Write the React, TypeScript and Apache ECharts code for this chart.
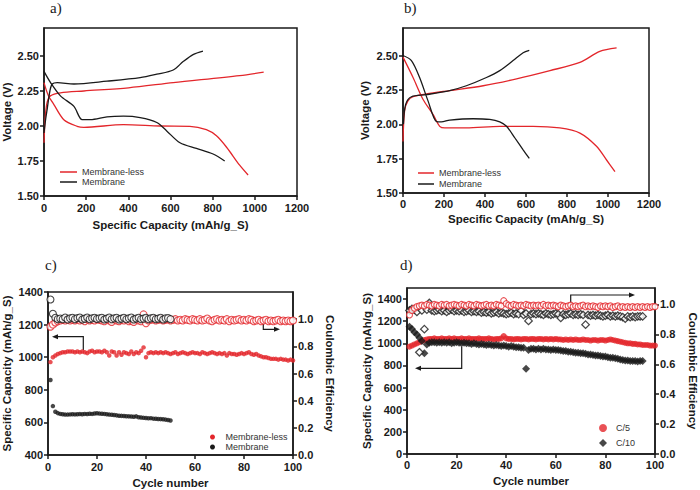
import React, { useEffect, useRef } from 'react';
import * as echarts from 'echarts';

const RED = '#e3262b';
const BLACK = '#1a1a1a';
const FONT = 'Liberation Sans, Arial, sans-serif';

// ---------- Panel a: voltage profiles ----------
const aRedChargeCap = [0, 4, 8, 15, 30, 78, 189, 401, 613, 928, 1042];
const aRedChargeV = [1.88, 2.02, 2.1, 2.17, 2.215, 2.237, 2.25, 2.273, 2.31, 2.36, 2.385];
const aRedDischargeCap = [0, 20, 47, 94, 157, 189, 377, 550, 692, 770, 818, 865, 928, 968];
const aRedDischargeV = [2.31, 2.22, 2.153, 2.045, 1.998, 1.99, 2.01, 2.0, 1.998, 1.974, 1.93, 1.85, 1.72, 1.65];
const aBlackChargeCap = [0, 8, 16, 28, 39, 63, 142, 299, 456, 535, 613, 660, 707, 754];
const aBlackChargeV = [1.95, 2.05, 2.13, 2.25, 2.3, 2.31, 2.3, 2.32, 2.345, 2.37, 2.4, 2.46, 2.51, 2.535];
const aBlackDischargeCap = [0, 31, 78, 142, 181, 220, 299, 377, 456, 535, 582, 645, 723, 802, 857];
const aBlackDischargeV = [2.39, 2.31, 2.215, 2.14, 2.045, 2.045, 2.065, 2.07, 2.06, 2.025, 1.965, 1.88, 1.84, 1.8, 1.75];

// ---------- Panel b: voltage profiles ----------
const bRedChargeCap = [0, 8, 24, 49, 114, 228, 391, 554, 717, 863, 960, 1042];
const bRedChargeV = [1.875, 2.1, 2.17, 2.2, 2.22, 2.245, 2.28, 2.33, 2.39, 2.45, 2.53, 2.555];
const bRedDischargeCap = [0, 49, 98, 147, 179, 204, 309, 472, 635, 765, 863, 944, 993, 1034];
const bRedDischargeV = [2.488, 2.34, 2.18, 2.07, 1.985, 1.973, 1.973, 1.985, 1.985, 1.973, 1.936, 1.84, 1.74, 1.655];
const bBlackChargeCap = [2, 13, 41, 114, 228, 309, 407, 472, 537, 586, 616];
const bBlackChargeV = [2.0, 2.145, 2.2, 2.215, 2.245, 2.28, 2.34, 2.39, 2.463, 2.52, 2.537];
const bBlackDischargeCap = [0, 41, 81, 122, 163, 187, 228, 342, 423, 472, 505, 546, 586, 616];
const bBlackDischargeV = [2.5, 2.463, 2.34, 2.17, 2.02, 2.017, 2.03, 2.04, 2.035, 2.017, 1.985, 1.9, 1.814, 1.752];

// ---------- Panel c: cycling (cycle n = index + 1) ----------
const cRedCap = [
  970, 1000, 1010, 1020, 1025, 1030, 1030, 1035, 1035, 1035,
  1030, 1035, 1030, 1035, 1030, 1025, 1035, 1040, 1030, 1035,
  1035, 1030, 1040, 1030, 1010, 1035, 1030, 1010, 1030, 1015,
  1030, 1025, 1020, 1035, 1020, 1030, 1025, 1040, 1060, 1000,
  1025, 1030, 1025, 1030, 1025, 1030, 1025, 1030, 1025, 1020,
  1025, 1030, 1020, 1025, 1030, 1025, 1020, 1025, 1030, 1025,
  1025, 1020, 1030, 1025, 1020, 1025, 1030, 1025, 1020, 1025,
  1020, 1025, 1010, 1025, 1020, 1020, 1015, 1020, 1025, 1020,
  1025, 1030, 1020, 1015, 1020, 1010, 1005, 1000, 1000, 995,
  990, 990, 990, 985, 990, 985, 985, 980, 985, 980,
];
const cRedCE = [
  0.945, 0.96, 0.975, 0.985, 0.99, 0.995, 0.99, 1.0, 0.99, 0.995,
  0.99, 1.0, 0.99, 0.995, 0.985, 1.0, 0.99, 0.995, 0.99, 1.0,
  0.995, 0.99, 0.985, 1.0, 0.99, 0.98, 1.0, 0.99, 0.985, 0.995,
  0.99, 1.0, 0.985, 0.99, 0.98, 1.0, 0.99, 0.985, 1.035, 0.97,
  0.99, 0.995, 1.0, 0.99, 0.995, 1.0, 0.99, 0.995, 1.0, 0.99,
  0.995, 1.0, 0.99, 0.995, 0.99, 1.0, 0.995, 0.99, 1.0, 0.995,
  0.99, 1.0, 0.99, 0.995, 1.005, 0.99, 0.985, 0.995, 1.0, 0.99,
  0.995, 0.99, 1.0, 0.985, 0.995, 0.99, 0.995, 1.0, 0.99, 0.995,
  0.99, 1.0, 0.995, 0.985, 0.99, 0.995, 0.985, 0.99, 0.995, 0.985,
  0.99, 0.985, 0.99, 0.995, 0.985, 0.99, 0.985, 0.99, 0.985, 0.99,
];
const cBlackCap = [
  860, 700, 665, 657, 652, 650, 648, 648, 649, 650,
  649, 650, 651, 650, 652, 651, 653, 652, 655, 656,
  654, 653, 652, 650, 648, 647, 645, 643, 641, 640,
  639, 638, 637, 636, 635, 637, 632, 630, 628, 627,
  625, 626, 623, 622, 621, 620, 619, 617, 615, 612,
];
const cBlackCE = [
  1.145, 1.04, 1.01, 1.0, 1.005, 1.0, 1.012, 0.998, 1.006, 1.01,
  1.0, 1.008, 1.012, 0.998, 1.004, 1.012, 1.0, 1.006, 1.01, 1.002,
  1.006, 1.01, 0.998, 1.004, 1.012, 1.0, 1.006, 1.01, 0.998, 1.004,
  1.01, 1.0, 1.006, 1.012, 0.998, 1.005, 1.01, 1.0, 1.004, 1.01,
  1.0, 1.006, 1.01, 1.0, 1.004, 1.01, 0.998, 1.006, 1.008, 1.0,
];

// ---------- Panel d: cycling (cycle n = index + 1) ----------
const dRedCap = [
  970, 980, 990, 1000, 1010, 1020, 1030, 1035, 1040, 1040,
  1045, 1040, 1040, 1045, 1040, 1040, 1045, 1040, 1045, 1040,
  1040, 1045, 1040, 1040, 1045, 1040, 1040, 1040, 1045, 1040,
  1040, 1040, 1045, 1040, 1035, 1040, 1040, 1045, 1065, 1045,
  1040, 1040, 1035, 1040, 1040, 1035, 1040, 1040, 1035, 1040,
  1040, 1035, 1040, 1040, 1035, 1040, 1035, 1040, 1035, 1040,
  1035, 1035, 1030, 1035, 1030, 1035, 1030, 1035, 1030, 1030,
  1035, 1030, 1030, 1025, 1030, 1030, 1025, 1030, 1030, 1025,
  1030, 1035, 1030, 1025, 1020, 1015, 1010, 1005, 1000, 1000,
  995, 995, 990, 990, 985, 985, 985, 980, 980, 980,
];
const dBlackCap = [
  1150, 1130, 1100, 1080, 1050, 1020, 910, 990, 1005, 1010,
  1010, 1005, 1010, 1005, 1010, 1005, 1010, 1000, 1005, 1010,
  1005, 1000, 1005, 1000, 1000, 995, 1000, 995, 990, 995,
  990, 985, 990, 985, 980, 985, 980, 975, 980, 975,
  970, 975, 970, 965, 965, 960, 960, 770, 940, 950,
  950, 945, 950, 945, 950, 945, 945, 940, 945, 940,
  940, 935, 930, 930, 925, 925, 920, 915, 915, 910,
  910, 905, 900, 900, 895, 890, 890, 885, 880, 880,
  875, 870, 870, 865, 860, 855, 850, 845, 845, 840,
  840, 840, 835, 840, 840,
];
const dRedCE = [
  0.93, 0.96, 0.975, 0.985, 0.99, 0.995, 0.99, 1.0, 0.995, 0.99,
  1.0, 0.995, 0.99, 1.0, 0.995, 1.0, 0.99, 0.995, 1.0, 0.995,
  0.99, 1.0, 0.995, 0.99, 1.0, 0.995, 0.99, 1.0, 0.995, 0.99,
  0.995, 1.0, 0.99, 0.995, 0.99, 1.0, 0.995, 0.99, 1.025, 1.005,
  0.995, 0.99, 1.0, 0.995, 0.99, 0.995, 0.99, 1.0, 0.995, 0.99,
  0.995, 0.99, 0.995, 0.99, 1.0, 0.99, 0.995, 0.99, 0.995, 0.99,
  0.985, 0.995, 0.99, 0.985, 0.99, 0.995, 0.985, 0.99, 0.985, 0.99,
  0.995, 0.985, 0.99, 0.985, 0.99, 0.985, 0.98, 0.99, 0.985, 0.99,
  0.985, 0.99, 0.98, 0.985, 0.99, 0.98, 0.985, 0.98, 0.985, 0.98,
  0.985, 0.98, 0.985, 0.98, 0.985, 0.98, 0.985, 0.98, 0.985, 0.985,
];
const dBlackCE = [
  0.96, 0.97, 0.965, 0.95, 0.68, 0.96, 0.835, 0.965, 1.01, 0.96,
  0.955, 0.96, 0.965, 0.955, 0.96, 0.95, 0.96, 0.965, 0.955, 0.96,
  0.955, 0.96, 0.95, 0.955, 0.96, 0.95, 0.955, 0.95, 0.955, 0.945,
  0.95, 0.945, 0.95, 0.94, 0.945, 0.95, 0.94, 0.945, 0.94, 0.935,
  0.94, 0.945, 0.935, 0.94, 0.935, 0.96, 0.93, 0.94, 0.89, 0.935,
  0.94, 0.935, 0.94, 0.935, 0.93, 0.94, 0.935, 0.93, 0.935, 0.94,
  0.935, 0.91, 0.935, 0.93, 0.935, 0.94, 0.93, 0.935, 0.93, 0.935,
  0.93, 0.865, 0.93, 0.925, 0.93, 0.925, 0.93, 0.925, 0.92, 0.925,
  0.93, 0.92, 0.925, 0.92, 0.925, 0.92, 0.915, 0.905, 0.92, 0.915,
  0.92, 0.915, 0.92, 0.92, 0.92,
];

// tick values
const voltTicks = [1.5, 1.75, 2.0, 2.25, 2.5];
const capTicksC = [400, 600, 800, 1000, 1200, 1400];
const capTicksD = [0, 200, 400, 600, 800, 1000, 1200, 1400];
const ceTicks = [0, 0.2, 0.4, 0.6, 0.8, 1.0];

const pairs = (xs: number[], ys: number[]) => xs.map((x, i) => [x, ys[i]]);
const cyc = (vals: number[]) => vals.map((v, i) => [i + 1, v]);
const plain = (v: number) => String(Math.round(v));

function mkAxis(o: any) {
  const { label = {}, ticks, ...rest } = o;
  const axis: any = {
    type: 'value',
    nameLocation: 'middle',
    nameTextStyle: { color: BLACK, fontSize: 11.5, fontWeight: 'bold', fontFamily: FONT },
    axisLine: { show: true, onZero: false, lineStyle: { color: BLACK, width: 1.5 } },
    axisTick: { show: true, inside: false, length: 4, lineStyle: { color: BLACK, width: 1.5 } },
    axisLabel: { color: BLACK, fontSize: 11, fontWeight: 'bold', fontFamily: FONT, margin: 5, formatter: plain, ...label },
    splitLine: { show: false },
    ...rest,
  };
  if (ticks) {
    axis.axisTick.customValues = ticks;
    axis.axisLabel.customValues = ticks;
  }
  return axis;
}

const lineSeries = (name: string, grid: number, data: number[][], color: string) => ({
  type: 'line',
  name,
  xAxisIndex: grid,
  yAxisIndex: grid,
  data,
  symbol: 'none',
  showSymbol: false,
  smooth: 0.3,
  lineStyle: { color, width: 1.3 },
  itemStyle: { color },
});

const scatter = (name: string, x: number, y: number, data: number[][], symbol: string, size: number, color: string, empty = false, bw = 1.1) => ({
  type: 'scatter',
  name,
  xAxisIndex: x,
  yAxisIndex: y,
  data,
  symbol,
  symbolSize: size,
  itemStyle: empty ? { color: '#fff', borderColor: color, borderWidth: bw } : { color },
});

const arrowLine = (pts: number[][]) => ({
  type: 'polyline',
  shape: { points: pts },
  style: { stroke: BLACK, lineWidth: 1.2, fill: 'none' },
  silent: true,
});
const arrowHead = (pts: number[][]) => ({
  type: 'polygon',
  shape: { points: pts },
  style: { fill: BLACK },
  silent: true,
});
const panelLabel = (text: string, x: number, y: number) => ({
  type: 'text',
  x,
  y,
  style: { text, font: '15px "Liberation Serif", "Times New Roman", serif', fill: BLACK },
});

const legendText = { fontSize: 9, color: '#333', fontFamily: FONT, lineHeight: 10 };

const option: any = {
  animation: false,
  backgroundColor: '#fff',
  grid: [
    { left: 43, top: 28, width: 254, height: 168, show: true, borderColor: BLACK, borderWidth: 1.5 },
    { left: 403, top: 28, width: 246, height: 165, show: true, borderColor: BLACK, borderWidth: 1.5 },
    { left: 48, top: 292, width: 245, height: 163, show: true, borderColor: BLACK, borderWidth: 1.5 },
    { left: 407, top: 288, width: 250, height: 166, show: true, borderColor: BLACK, borderWidth: 1.5 },
  ],
  xAxis: [
    mkAxis({ gridIndex: 0, min: 0, max: 1200, interval: 200, name: 'Specific Capacity (mAh/g_S)', nameGap: 23, label: { margin: 6 } }),
    mkAxis({ gridIndex: 1, min: 0, max: 1200, interval: 200, name: 'Specific Capacity (mAh/g_S)', nameGap: 20 }),
    mkAxis({ gridIndex: 2, min: 0, max: 100, interval: 20, name: 'Cycle number', nameGap: 22, label: { margin: 6 } }),
    mkAxis({ gridIndex: 3, min: 0, max: 100, interval: 20, name: 'Cycle number', nameGap: 21 }),
  ],
  yAxis: [
    mkAxis({ gridIndex: 0, min: 1.5, max: 2.7, ticks: voltTicks, name: 'Voltage (V)', nameGap: 31, label: { formatter: (v: number) => v.toFixed(2) } }),
    mkAxis({ gridIndex: 1, min: 1.5, max: 2.7, ticks: voltTicks, name: 'Voltage (V)', nameGap: 32, label: { formatter: (v: number) => v.toFixed(2) } }),
    mkAxis({ gridIndex: 2, min: 400, max: 1400, ticks: capTicksC, name: 'Specific Capacity (mAh/g_S)', nameGap: 35 }),
    mkAxis({ gridIndex: 2, position: 'right', min: 0, max: 1.2, ticks: ceTicks, name: 'Coulombic Efficiency', nameGap: 31, nameRotate: -90, label: { formatter: (v: number) => v.toFixed(1) } }),
    mkAxis({ gridIndex: 3, min: 0, max: 1500, ticks: capTicksD, name: 'Specific Capacity (mAh/g_S)', nameGap: 34 }),
    mkAxis({ gridIndex: 3, position: 'right', min: 0, max: 1.11, ticks: ceTicks, name: 'Coulombic Efficiency', nameGap: 32, nameRotate: -90, label: { formatter: (v: number) => v.toFixed(1) } }),
  ],
  legend: [
    { left: 55, top: 162, orient: 'vertical', itemWidth: 17, itemHeight: 1.5, itemGap: 0, selectedMode: false, textStyle: legendText,
      data: [{ name: 'Membrane-less', icon: 'rect' }, { name: 'Membrane', icon: 'rect' }] },
    { left: 413, top: 163, orient: 'vertical', itemWidth: 16, itemHeight: 1.5, itemGap: 1, selectedMode: false, textStyle: legendText,
      data: [{ name: 'Membrane-less', icon: 'rect' }, { name: 'Membrane', icon: 'rect' }] },
    { left: 205, top: 427, orient: 'vertical', itemWidth: 16, itemHeight: 5, itemGap: 0, selectedMode: false, textStyle: legendText,
      data: [{ name: 'Membrane-less', icon: 'circle' }, { name: 'Membrane', icon: 'circle' }] },
    { left: 594, top: 418, orient: 'vertical', itemWidth: 8, itemHeight: 8, itemGap: 5, selectedMode: false,
      textStyle: { ...legendText, padding: [0, 0, 0, 4] },
      data: [{ name: 'C/5', icon: 'circle' }, { name: 'C/10', icon: 'diamond' }] },
  ],
  series: [
    lineSeries('Membrane-less', 0, pairs(aRedChargeCap, aRedChargeV), RED),
    lineSeries('Membrane-less', 0, pairs(aRedDischargeCap, aRedDischargeV), RED),
    lineSeries('Membrane', 0, pairs(aBlackChargeCap, aBlackChargeV), BLACK),
    lineSeries('Membrane', 0, pairs(aBlackDischargeCap, aBlackDischargeV), BLACK),
    lineSeries('Membrane-less', 1, pairs(bRedChargeCap, bRedChargeV), RED),
    lineSeries('Membrane-less', 1, pairs(bRedDischargeCap, bRedDischargeV), RED),
    lineSeries('Membrane', 1, pairs(bBlackChargeCap, bBlackChargeV), BLACK),
    lineSeries('Membrane', 1, pairs(bBlackDischargeCap, bBlackDischargeV), BLACK),

    scatter('Membrane-less', 2, 3, cyc(cRedCE), 'circle', 7, RED, true),
    scatter('Membrane', 2, 3, cyc(cBlackCE), 'circle', 7, BLACK, true),
    scatter('Membrane-less', 2, 2, cyc(cRedCap), 'circle', 4.5, RED),
    scatter('Membrane', 2, 2, cyc(cBlackCap), 'circle', 4.5, BLACK),

    scatter('C/5', 3, 4, cyc(dRedCap), 'circle', 6, RED),
    scatter('C/10', 3, 4, cyc(dBlackCap), 'diamond', 8, BLACK),
    scatter('C/10', 3, 5, cyc(dBlackCE), 'diamond', 7.5, BLACK, true, 1.3),
    scatter('C/5', 3, 5, cyc(dRedCE), 'circle', 6, RED, true),
  ],
  graphic: [
    panelLabel('a)', 50, 0),
    panelLabel('b)', 404, 0),
    panelLabel('c)', 45, 257),
    panelLabel('d)', 400, 257),
    arrowLine([[83.3, 350], [83.3, 336.7], [57, 336.7]]),
    arrowHead([[52, 336.7], [58, 334.2], [58, 339.2]]),
    arrowLine([[263.3, 322.7], [263.3, 329.3], [275, 329.3]]),
    arrowHead([[280, 329.3], [274, 326.8], [274, 331.8]]),
    arrowLine([[461.7, 346.7], [461.7, 368.3], [420, 368.3]]),
    arrowHead([[415, 368.3], [421, 365.8], [421, 370.8]]),
    arrowLine([[570.7, 305], [570.7, 295], [630, 295]]),
    arrowHead([[635, 295], [629, 292.5], [629, 297.5]]),
  ],
};

export default function App() {
  const ref = useRef<HTMLDivElement>(null);
  useEffect(() => {
    const chart = echarts.init(ref.current as HTMLDivElement, null, { renderer: 'svg' });
    chart.setOption(option);
    return () => chart.dispose();
  }, []);
  return (
    <div
      ref={ref}
      style={{ position: 'absolute', left: 0, top: 0, width: 700, height: 490, background: '#fff' }}
    />
  );
}
